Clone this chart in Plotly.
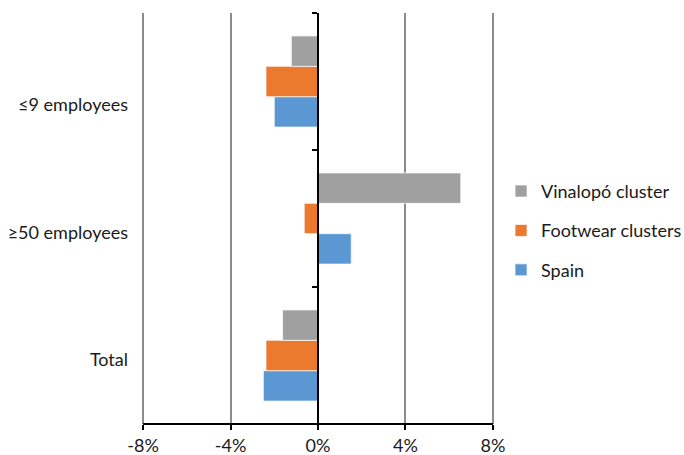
import plotly.graph_objects as go

# Employment change by firm size, per territory (%)
categories = ["Total", "≥50 employees", "≤9 employees"]
spain = [-2.5, 1.52, -2.0]
footwear = [-2.38, -0.63, -2.38]
vinalopo = [-1.62, 6.53, -1.22]
x_ticks = [-8, -4, 0, 4, 8]
x_tick_text = ["-8%", "-4%", "0%", "4%", "8%"]

series = [
    ("Spain", spain, "#5b97d2"),
    ("Footwear clusters", footwear, "#ec7a2e"),
    ("Vinalopó cluster", vinalopo, "#a0a0a0"),
]

fig = go.Figure()
for i, (name, vals, color) in enumerate(series):
    fig.add_trace(go.Bar(
        y=categories, x=vals, name=name, orientation="h", yaxis="y2",
        marker=dict(color=color, line=dict(color="rgba(255,255,255,0.7)", width=1)),
        legendgroup=f"g{i}", legendrank=10 - i,
    ))

# empty carriers for the category-label axis and the axis drawn through zero
for ax in ("y", "y3"):
    fig.add_trace(go.Bar(y=categories, x=[0, 0, 0], yaxis=ax, orientation="h",
                         showlegend=False, hoverinfo="skip",
                         marker=dict(color="rgba(0,0,0,0)")))

font = "Lato, 'Open Sans', sans-serif"
fig.update_layout(
    width=684, height=455,
    margin=dict(l=142, r=190, t=13, b=31, autoexpand=False),
    paper_bgcolor="white", plot_bgcolor="white",
    barmode="group", bargap=0.335, bargroupgap=0,
    font=dict(family=font, size=18, color="#1a1a1a"),
    xaxis=dict(
        range=[-8.05, 8.05], tickvals=x_ticks, ticktext=x_tick_text,
        showgrid=True, gridcolor="#8c8c8c", gridwidth=2,
        zeroline=False, showline=False,
        ticks="outside", ticklen=5, tickwidth=2, tickcolor="black",
        tickfont=dict(size=18),
    ),
    # category labels
    yaxis=dict(
        domain=[0, 0.933],
        categoryorder="array", categoryarray=categories,
        showgrid=False, zeroline=False, showline=False,
        ticks="", ticklabelstandoff=13, tickfont=dict(size=18),
    ),
    # bars
    yaxis2=dict(
        domain=[0, 1], anchor="x",
        categoryorder="array", categoryarray=categories,
        showgrid=False, zeroline=False, showline=False,
        showticklabels=False, ticks="",
    ),
    # vertical axis through 0%
    yaxis3=dict(
        overlaying="y2", matches="y2", anchor="free", position=0.5,
        categoryorder="array", categoryarray=categories,
        showgrid=False, zeroline=False, showline=True,
        linecolor="black", linewidth=2, showticklabels=False,
        ticks="outside", tickson="boundaries", ticklen=5, tickwidth=2, tickcolor="black",
    ),
    legend=dict(
        x=1.02, y=0.47, xanchor="left", yanchor="middle",
        traceorder="grouped", tracegroupgap=13,
        font=dict(size=18), itemwidth=30,
    ),
)

# horizontal axis line from -8% to 8%
fig.add_shape(type="line", xref="x", yref="paper", x0=x_ticks[0], x1=x_ticks[-1],
              y0=0, y1=0, line=dict(color="black", width=2))

fig.write_html("out.html")
